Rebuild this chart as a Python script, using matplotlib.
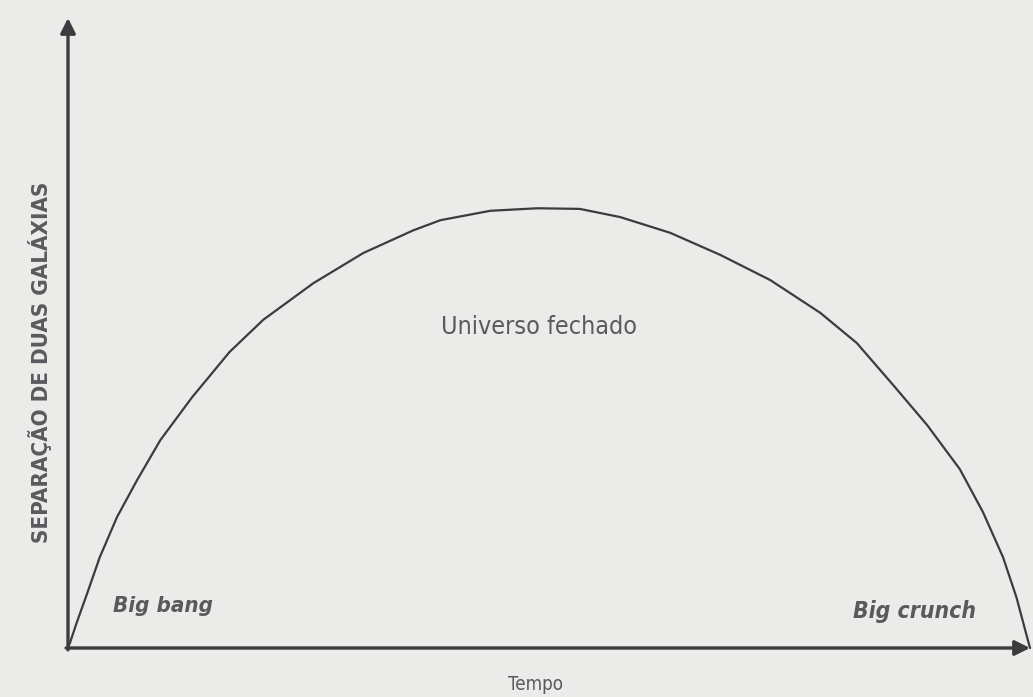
import matplotlib
matplotlib.use("Agg")
import matplotlib.pyplot as plt

# Curva do universo fechado (tempo em unidades arbitrárias, separação relativa)
tempo = [0.00, 0.02, 0.09, 0.20, 0.33, 0.51, 0.72, 0.96, 1.29, 1.68, 2.03,
         2.55, 3.07, 3.59, 3.87, 4.39, 4.88, 5.32, 5.74, 6.26, 6.78, 7.30,
         7.82, 8.20, 8.58, 8.93, 9.27, 9.51, 9.72, 9.86, 9.97, 10.00]
separacao = [0.000, 0.008, 0.040, 0.087, 0.144, 0.208, 0.267, 0.330, 0.398,
             0.470, 0.521, 0.579, 0.627, 0.663, 0.679, 0.694, 0.698, 0.697,
             0.684, 0.659, 0.624, 0.584, 0.532, 0.484, 0.417, 0.354, 0.284,
             0.216, 0.144, 0.080, 0.017, 0.000]

ylabel = "SEPARAÇÃO DE DUAS GALÁXIAS"
xlabel = "Tempo"
curve_label = "Universo fechado"
start_label = "Big bang"
end_label = "Big crunch"

BG = "#ebebe9"
INK = "#3c3c40"
TXT = "#5a5a5e"
FAM = ["DejaVu Sans"]
txt_kw = dict(color=TXT, family=FAM, fontstretch="condensed")

fig = plt.figure(figsize=(10.33, 6.97), dpi=100, facecolor=BG)
ax = fig.add_axes([68 / 1033, 49 / 697, 962 / 1033, 630 / 697])
ax.set_facecolor(BG)
ax.set_xlim(0, 10)
ax.set_ylim(0, 1)
for s in ax.spines.values():
    s.set_visible(False)
ax.set_xticks([])
ax.set_yticks([])

# eixos com setas
arrow = dict(arrowstyle="-|>,head_length=0.9,head_width=0.45", color=INK,
             lw=2.4, shrinkA=0, shrinkB=0)
ax.annotate("", xy=(0, 1), xytext=(0, -0.003), xycoords="axes fraction",
            arrowprops=arrow, annotation_clip=False)
ax.annotate("", xy=(1.0, 0), xytext=(-0.002, 0), xycoords="axes fraction",
            arrowprops=arrow, annotation_clip=False)

ax.plot(tempo, separacao, color=INK, lw=1.6, solid_capstyle="round",
        solid_joinstyle="round", clip_on=False)

ax.text(4.9, 0.51, curve_label, ha="center", va="center", fontsize=18,
        **txt_kw)
ax.text(0.47, 0.066, start_label, ha="left", va="center", fontsize=16,
        style="italic", fontweight="bold", **txt_kw)
ax.text(8.16, 0.058, end_label, ha="left", va="center", fontsize=16.5,
        style="italic", fontweight="bold", **txt_kw)

fig.text(40 / 1033, 1 - 362 / 697, ylabel, rotation=90, ha="center",
         va="center", fontsize=16, fontweight="bold", **txt_kw)
fig.text(535 / 1033, 1 - 684 / 697, xlabel, ha="center", va="center",
         fontsize=13.5, **txt_kw)

fig.savefig("out.png", dpi=100, facecolor=BG)
